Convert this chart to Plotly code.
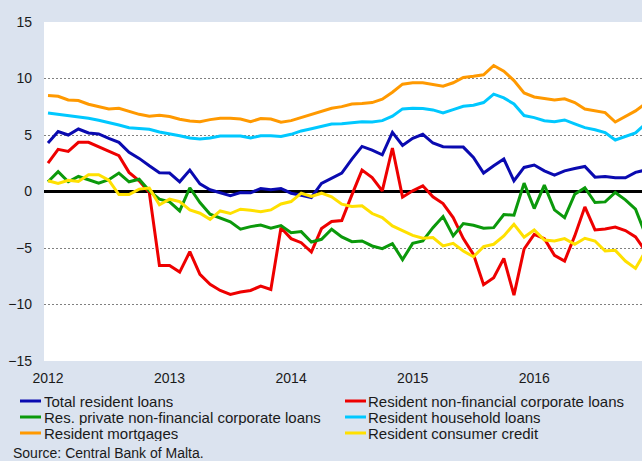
import plotly.graph_objects as go

# Monthly categories, Jan 2012 - Dec 2016
years = ["2012", "2013", "2014", "2015", "2016"]
month_names = ["Jan", "Feb", "Mar", "Apr", "May", "Jun", "Jul", "Aug", "Sep", "Oct", "Nov", "Dec"]
months = [f"{m} {y}" for y in years for m in month_names]

tick_positions = ["Jan 2012", "Jan 2013", "Jan 2014", "Jan 2015", "Jan 2016"]
tick_labels = ["2012", "2013", "2014", "2015", "2016"]

total_resident_loans = [
    4.29, 5.30, 5.00, 5.53, 5.18, 5.09, 4.70, 4.35, 3.46, 2.93, 2.28, 1.66,
    1.63, 0.86, 1.89, 0.68, 0.15, -0.09, -0.38, -0.09, -0.12, 0.27, 0.15, 0.27,
    -0.15, -0.33, -0.53, 0.71, 1.18, 1.63, 2.87, 3.99, 3.67, 3.25, 5.24, 4.08,
    4.70, 5.06, 4.29, 3.96, 3.93, 3.93, 3.02, 1.63, 2.28, 2.87, 0.95, 2.13,
    2.34, 1.83, 1.45, 1.83, 2.04, 2.22, 1.27, 1.33, 1.21, 1.21, 1.69, 1.90,
]
resident_nfc_loans = [
    2.51, 3.73, 3.55, 4.35, 4.35, 3.96, 3.52, 3.17, 1.69, 0.95, -0.10, -6.54,
    -6.54, -7.13, -5.33, -7.34, -8.22, -8.76, -9.11, -8.90, -8.76, -8.37, -8.67, -3.20,
    -4.17, -4.53, -5.36, -3.28, -2.66, -2.57, -0.30, 1.89, 1.24, 0.06, 3.85, -0.50,
    0.06, 0.50, -0.47, -1.07, -2.31, -4.17, -5.56, -8.25, -7.63, -5.92, -9.17, -5.09,
    -3.79, -4.17, -5.65, -6.15, -3.93, -1.36, -3.40, -3.31, -3.14, -3.46, -4.02, -5.30,
]
res_private_nfc_loans = [
    0.86, 1.75, 0.86, 1.33, 1.04, 0.74, 1.04, 1.63, 0.86, 1.09, 0.06, -0.68,
    -0.92, -1.72, 0.33, -0.98, -2.01, -2.37, -2.69, -3.34, -3.11, -2.96, -3.25, -3.02,
    -3.64, -3.55, -4.47, -4.23, -3.34, -4.02, -4.44, -4.38, -4.82, -5.06, -4.62, -6.03,
    -4.59, -4.38, -3.20, -2.22, -3.93, -2.84, -2.99, -3.25, -3.20, -2.04, -2.10, 0.74,
    -1.51, 0.56, -1.63, -2.31, -0.24, 0.33, -0.98, -0.92, -0.09, -0.74, -1.57, -3.85,
]
resident_household_loans = [
    6.95, 6.83, 6.69, 6.63, 6.48, 6.30, 6.12, 5.89, 5.65, 5.56, 5.50, 5.27,
    5.12, 4.94, 4.73, 4.64, 4.73, 4.91, 4.91, 4.91, 4.73, 4.94, 4.94, 4.86,
    5.06, 5.36, 5.56, 5.77, 5.98, 6.00, 6.12, 6.18, 6.15, 6.27, 6.66, 7.31,
    7.37, 7.34, 7.22, 6.95, 7.25, 7.54, 7.63, 7.87, 8.61, 8.28, 7.75, 6.72,
    6.54, 6.27, 6.18, 6.33, 5.98, 5.65, 5.47, 5.21, 4.56, 4.88, 5.18, 6.00,
]
resident_mortgages = [
    8.49, 8.43, 8.10, 8.05, 7.72, 7.51, 7.30, 7.37, 7.10, 6.83, 6.66, 6.75,
    6.63, 6.39, 6.24, 6.18, 6.36, 6.48, 6.48, 6.42, 6.18, 6.45, 6.42, 6.13,
    6.27, 6.54, 6.80, 7.10, 7.37, 7.51, 7.75, 7.78, 7.87, 8.17, 8.79, 9.50,
    9.62, 9.62, 9.47, 9.32, 9.62, 10.09, 10.20, 10.33, 11.15, 10.65, 9.82, 8.72,
    8.37, 8.22, 8.10, 8.20, 7.87, 7.30, 7.13, 6.98, 6.15, 6.63, 7.13, 7.80,
]
resident_consumer_credit = [
    0.95, 0.71, 1.00, 0.89, 1.48, 1.48, 1.00, -0.27, -0.27, 0.21, 0.30, -1.18,
    -0.68, -0.89, -1.63, -1.92, -2.46, -1.72, -1.95, -1.57, -1.66, -1.80, -1.63, -1.10,
    -0.89, -0.15, -0.44, -0.15, -0.47, -1.12, -1.33, -1.27, -1.95, -2.31, -3.05, -3.50,
    -3.88, -4.14, -4.08, -4.82, -4.59, -5.27, -5.77, -4.88, -4.67, -3.93, -2.90, -4.04,
    -3.40, -4.29, -4.38, -4.17, -4.67, -4.14, -4.38, -5.27, -5.21, -6.15, -6.80, -5.25,
]

series_names = [
    "Total resident loans",
    "Resident non-financial corporate loans",
    "Res. private non-financial corporate loans",
    "Resident household loans",
    "Resident mortgages",
    "Resident consumer credit",
]
series_values = [
    total_resident_loans, resident_nfc_loans, res_private_nfc_loans,
    resident_household_loans, resident_mortgages, resident_consumer_credit,
]
series_colors = ["#0a0ab0", "#ee0000", "#0b990b", "#00c8ff", "#ff9900", "#ffe000"]

W, H = 642, 461
L, R, T, B = 44, 0, 22, 100
PW, PH = W - L - R, H - T - B

def px_x(px):
    return (px - L) / PW

def px_y(py):
    return (H - B - py) / PH

fig = go.Figure()
for name, vals, color in zip(series_names, series_values, series_colors):
    fig.add_trace(go.Scatter(
        x=months, y=vals, name=name, mode="lines",
        line=dict(color=color, width=3), showlegend=False,
    ))

# Legend drawn as two columns, three rows below the plot
shapes = []
annotations = []
col_line_x = [(20, 41), (345, 366)]
col_text_x = [43, 367]
row_y = [401, 417, 433]
for i, (name, color) in enumerate(zip(series_names, series_colors)):
    r, c = divmod(i, 2)
    x0, x1 = col_line_x[c]
    y = row_y[r]
    shapes.append(dict(
        type="line", xref="paper", yref="paper",
        x0=px_x(x0), x1=px_x(x1), y0=px_y(y), y1=px_y(y),
        line=dict(color=color, width=3),
    ))
    annotations.append(dict(
        text=name, xref="paper", yref="paper",
        x=px_x(col_text_x[c]), y=px_y(y), xanchor="left", yanchor="middle",
        showarrow=False, font=dict(size=15, color="#1a1a1a"),
        height=16, valign="middle", borderpad=0,
    ))

annotations.append(dict(
    text="Source: Central Bank of Malta.",
    xref="paper", yref="paper", x=px_x(12), y=px_y(453),
    xanchor="left", yanchor="middle", showarrow=False,
    font=dict(size=14, color="#1a1a1a"), height=16, borderpad=0,
))

font_family = "Liberation Sans, Arial, sans-serif"
fig.update_layout(
    width=W, height=H,
    margin=dict(l=L, r=R, t=T, b=B, pad=0, autoexpand=False),
    paper_bgcolor="#dbe3ef",
    plot_bgcolor="#ffffff",
    font=dict(family=font_family, size=14, color="#1a1a1a"),
    showlegend=False,
    shapes=shapes,
    annotations=annotations,
)
fig.update_xaxes(
    type="category",
    range=[-0.395, 58.64],
    tickmode="array", tickvals=tick_positions, ticktext=tick_labels,
    showgrid=False, ticks="", showline=False, zeroline=False,
    tickfont=dict(size=14, color="#1a1a1a"), automargin=False,
    ticklabelstandoff=7,
)
fig.update_yaxes(
    range=[-15, 15],
    tickvals=[-15, -10, -5, 0, 5, 10, 15],
    showgrid=True, gridcolor="#808080", gridwidth=1, griddash="2px,2px",
    zeroline=True, zerolinecolor="#000000", zerolinewidth=2.5,
    ticks="", showline=False, ticklabelstandoff=11,
    tickfont=dict(size=14, color="#1a1a1a"), automargin=False,
)

fig.write_html(
    "out.html",
    config={"displayModeBar": False},
    post_script="document.body.style.margin='0';document.body.style.background='#dbe3ef';",
)
